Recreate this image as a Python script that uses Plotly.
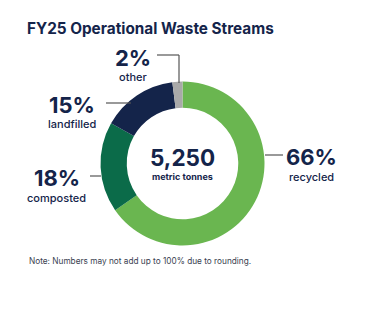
import plotly.graph_objects as go

W, H = 377, 318

categories = ["recycled", "composted", "landfilled", "other"]
values = [66, 18, 15, 2]
pct_labels = ["66%", "18%", "15%", "2%"]
colors = ["#6ab650", "#0b6b49", "#14244a", "#a9a9a9"]
total_label = "5,250"
total_unit = "metric tonnes"
title = "FY25 Operational Waste Streams"
note = "Note: Numbers may not add up to 100% due to rounding."

NAVY = "#14244a"
FONT = "Inter, Arial, sans-serif"

def px(x):
    return x / W

def py(y):
    return 1 - y / H

cx, cy, r = 182.5, 163.5, 82

fig = go.Figure(go.Pie(
    labels=categories, values=values, hole=0.68, sort=False,
    direction="clockwise", rotation=0,
    marker=dict(colors=colors, line=dict(width=0)),
    textinfo="none", hoverinfo="label+percent", showlegend=False,
    domain=dict(x=[px(cx - r), px(cx + r)], y=[py(cy + r), py(cy - r)]),
))

ann = []
def text(x, y, s, size, weight=700, color=NAVY, anchor="center"):
    ann.append(dict(x=px(x), y=py(y), xref="paper", yref="paper", text=s,
                    showarrow=False, font=dict(family=FONT, size=size, color=color, weight=weight),
                    xanchor=anchor, yanchor="middle"))

# Title
text(25, 29, title, 15.3)
ann[-1]["xanchor"] = "left"
# Center
text(cx, 157, total_label, 22.5)
text(cx, 176, total_unit, 9)
# Segment labels
label_pos = {
    "recycled": (311, 157, 177),
    "composted": (57, 178, 198),
    "landfilled": (72, 105, 124),
    "other": (133, 58, 77),
}
for cat, pct in zip(categories, pct_labels):
    x, y1, y2 = label_pos[cat]
    text(x, y1, pct, 22)
    text(x, y2, cat, 11, weight=500)
# Note
text(27, 261, note, 8.25, weight=400, color="#3a4150", anchor="left")

shapes = []
def line(x0, y0, x1, y1):
    shapes.append(dict(type="line", xref="paper", yref="paper", x0=px(x0), y0=py(y0), x1=px(x1), y1=py(y1),
                       line=dict(color="#555555", width=1.2)))

line(265, 155, 283, 155)
line(90, 176, 101, 176)
line(106, 103, 131, 103)
line(157, 55, 179, 55)
line(179, 55, 179, 83)

fig.update_layout(width=W, height=H, margin=dict(l=0, r=0, t=0, b=0),
                  paper_bgcolor="white", plot_bgcolor="white",
                  annotations=ann, shapes=shapes)

fig.write_html("out.html")
